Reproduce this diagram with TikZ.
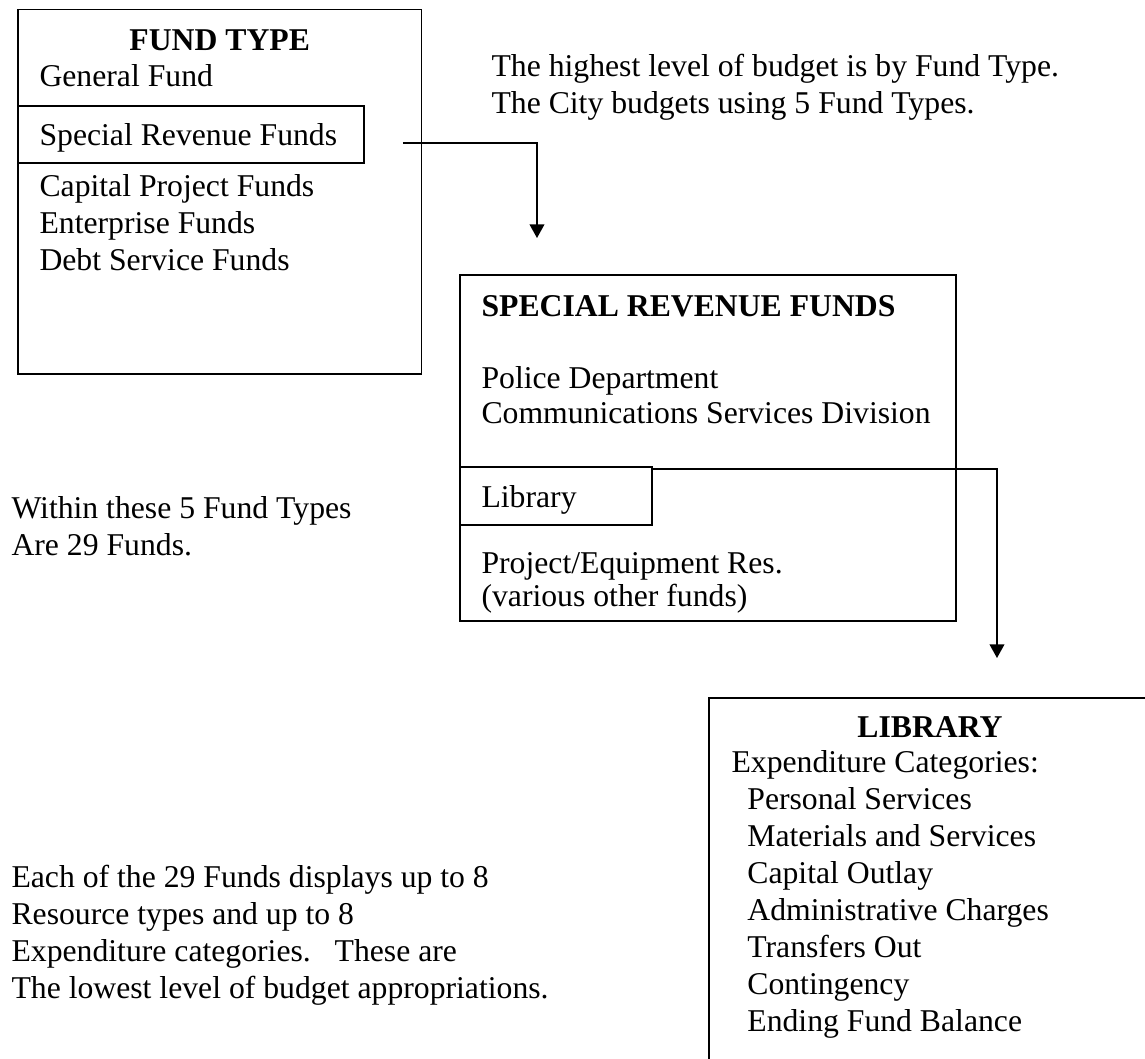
\documentclass[tikz,border=0pt]{standalone}
\usepackage{fontspec}
\setmainfont{Liberation Serif}
\usepackage{xcolor}
\usepackage{tikz}
\usetikzlibrary{positioning,fit,arrows.meta}

\tikzset{
  box/.style={draw,line width=0.65pt,inner sep=0pt},
  txt/.style={anchor=base west,inner sep=0pt,align=left,font=\fontsize{12}{14}\selectfont},
  head/.style={anchor=base,inner sep=0pt,font=\fontsize{12}{14}\selectfont\bfseries},
  link/.style={line width=0.6pt,-{Triangle[length=5.2pt,width=5.6pt]}}
}

\begin{document}
\begin{tikzpicture}[x=0.3785pt,y=-0.3785pt]
  \useasboundingbox (0,0) rectangle (1145,1059);
  \clip (0,0) rectangle (1145,1059);

  % fund types
  \node[box,fit={(18,9.5) (421.5,374)}] (fundbox) {};
  \node[box,fit={(18,105.7) (364,163)}] (srfbox) {};
  \node[head] (fundhead) at (219.7,50) {FUND TYPE};
  \node[txt] (general) at (39,86) {General Fund};
  \node[txt] (srf) at (39,145) {Special Revenue Funds};
  \node[txt] (capital) at (39,196) {Capital Project Funds};
  \node[txt] (enterprise) at (39,233) {Enterprise Funds};
  \node[txt] (debt) at (39,270) {Debt Service Funds};

  % multi-line nodes sit on their last line
  \node[txt] (toptext) at (491,113) {The highest level of budget is by Fund Type.\\
    The City budgets using 5 Fund Types.};

  % special revenue funds
  \node[box,fit={(460,275) (956,621)}] (revbox) {};
  \node[box,fit={(460,467) (652,525)}] (libbox) {};
  \node[txt,font=\fontsize{12}{14}\selectfont\bfseries] (revhead) at (481,316) {SPECIAL REVENUE FUNDS};
  \node[txt] (police) at (481,388) {Police Department};
  \node[txt] (comm) at (481,423) {Communications Services Division};
  \node[txt] (library) at (481,507) {Library};
  \node[txt] (project) at (481,573) {Project/Equipment Res.};
  \node[txt] (various) at (481,606) {(various other funds)};

  \node[txt] (within) at (11,555) {Within these 5 Fund Types\\Are 29 Funds.};

  % library
  \node[box,fit={(709,698) (1151,1120)}] (librarybox) {};
  \node[head] (libhead) at (930,737) {LIBRARY};
  \node[txt] (expcat) at (731,1031) {Expenditure Categories:\\
    \hspace*{6pt}Personal Services\\
    \hspace*{6pt}Materials and Services\\
    \hspace*{6pt}Capital Outlay\\
    \hspace*{6pt}Administrative Charges\\
    \hspace*{6pt}Transfers Out\\
    \hspace*{6pt}Contingency\\
    \hspace*{6pt}Ending Fund Balance};

  \node[txt] (lowest) at (11,998) {Each of the 29 Funds displays up to 8\\
    Resource types and up to 8\\
    Expenditure categories.\ \ \ These are\\
    The lowest level of budget appropriations.};

  % connectors
  \coordinate (srftip) at (537,238);
  \coordinate (libtip) at (997,658);
  \draw[link] ([xshift=14.4pt,yshift=-3.3pt]srfbox.east) -| (srftip);
  \draw[link] ([yshift=-1.1pt]libbox.north east) -| (libtip);
\end{tikzpicture}
\end{document}
